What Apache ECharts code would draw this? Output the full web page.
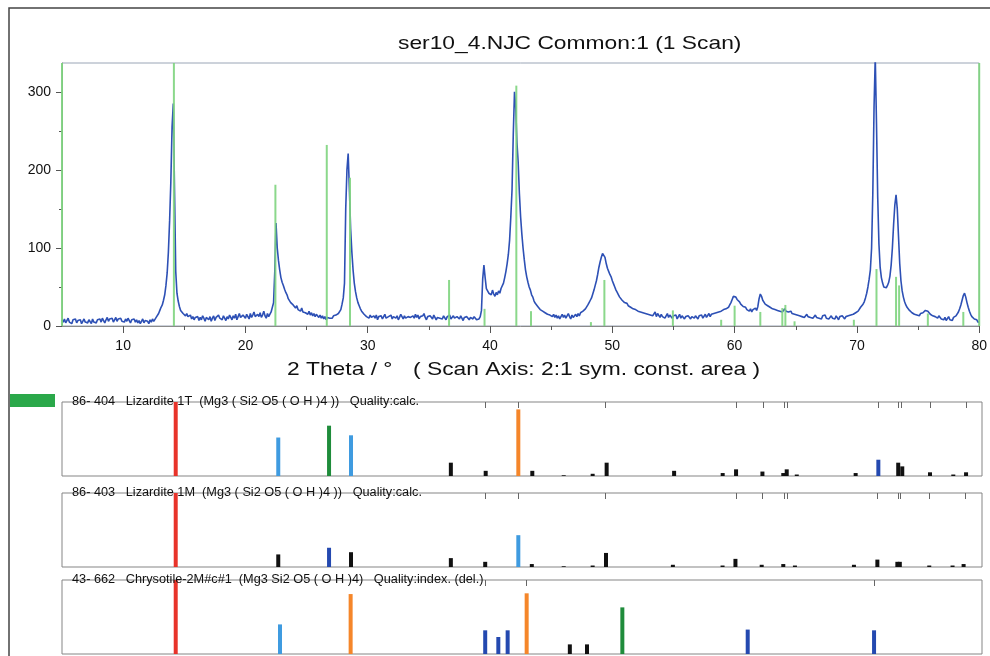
<!DOCTYPE html>
<html>
<head>
<meta charset="utf-8">
<title>ser10_4.NJC</title>
<script src="https://cdn.jsdelivr.net/npm/echarts@6/dist/echarts.min.js"></script>
<style>
  html, body { margin: 0; padding: 0; background: #fff; }
  #chart { width: 990px; height: 656px; }
</style>
</head>
<body>
<div id="chart"></div>
<script>
// Scan: 2-theta from 5 to 80 in 0.1 deg steps, counts
var scanStart = 5.0;
var scanStep = 0.1;
var scanCounts = [
  8,5,9,4,7,10,5,6,3,8,
  6,9,4,7,5,8,3,6,9,5,
  7,4,8,6,3,9,5,7,4,8,
  6,9,5,10,7,4,8,11,6,9,
  7,10,5,8,11,6,9,7,10,6,
  8,5,9,6,10,7,4,8,6,9,
  5,8,4,7,3,6,9,4,7,5,
  6,3,8,5,9,6,8,11,13,16,
  20,24,27,33,40,52,68,95,135,185,
  255,285,175,70,42,32,25,20,18,16,
  15,13,16,12,10,14,9,12,8,11,
  9,12,7,11,8,13,10,6,11,9,
  8,12,6,10,13,7,11,9,14,10,
  12,8,13,10,7,12,9,14,11,8,
  13,10,15,8,12,16,11,9,14,12,
  10,15,12,9,16,11,14,18,12,10,
  15,12,17,11,14,19,13,10,16,12,
  14,18,16,30,70,132,100,84,72,62,
  56,52,47,43,40,35,33,30,29,27,
  25,23,26,21,22,19,23,18,20,17,
  18,15,19,14,17,13,16,12,15,13,
  11,14,10,13,9,12,8,11,13,10,
  12,10,13,11,14,13,16,18,21,28,
  36,55,150,200,221,175,125,95,72,55,
  44,36,30,26,22,19,17,15,14,12,
  13,10,14,11,9,13,10,14,8,12,
  10,13,9,12,15,10,8,12,11,14,
  9,12,14,10,13,8,11,15,12,9,
  13,10,8,12,14,11,9,13,10,15,
  11,14,9,12,10,13,16,11,8,12,
  10,13,11,9,14,12,8,11,13,10,
  12,9,13,11,8,12,10,14,9,11,
  13,10,8,12,11,9,13,10,7,11,
  9,12,10,8,11,13,9,12,10,8,
  10,9,12,20,60,78,62,48,45,42,
  44,40,46,41,38,43,40,45,42,48,
  50,55,62,70,80,92,110,140,175,245,
  300,280,235,210,170,140,118,100,85,72,
  63,56,50,46,40,37,32,29,27,25,
  24,21,23,19,20,17,19,15,17,14,
  16,12,15,11,14,10,13,9,12,15,
  11,14,10,13,16,12,9,14,11,13,
  15,12,16,13,17,15,19,18,22,24,
  27,30,33,36,41,46,52,58,66,75,
  82,88,93,95,88,80,74,70,66,63,
  58,54,50,46,43,40,37,35,33,31,
  30,28,29,26,27,24,25,22,24,21,
  22,19,21,18,20,17,19,16,18,15,
  17,14,16,13,15,18,12,16,14,11,
  15,12,14,10,13,16,11,14,12,10,
  13,11,14,9,12,15,10,13,11,9,
  12,10,13,11,9,12,14,10,13,11,
  9,13,11,14,10,12,15,11,13,16,
  12,15,13,16,14,17,15,18,16,19,
  18,21,19,22,20,24,27,30,34,38,
  40,37,34,36,31,28,27,25,23,24,
  21,23,19,22,18,21,19,23,20,25,
  35,41,38,33,31,28,30,26,27,24,
  25,22,24,21,23,20,22,19,21,18,
  20,22,19,21,18,17,19,16,18,15,
  17,14,16,13,15,12,14,11,13,15,
  12,14,11,13,10,12,14,11,13,10,
  12,9,13,11,14,10,12,9,11,13,
  10,12,9,13,11,8,12,10,13,11,
  9,12,10,13,11,14,12,15,13,17,
  16,19,21,24,26,28,31,36,42,50,
  60,72,100,170,280,345,260,165,105,75,
  62,55,50,48,49,52,56,64,78,100,
  130,155,168,150,115,80,58,45,37,31,
  27,24,22,20,19,17,18,15,17,14,
  15,13,16,14,17,18,20,22,19,17,
  15,17,13,15,12,14,10,13,11,9,
  10,8,11,7,9,12,8,10,7,11,
  11,13,15,18,22,27,33,39,42,37,
  30,24,19,15,12,10,9,7,8,5,
  5
];

// green reference lines drawn in the scan window [2theta, counts]
var refLines = [
  [5.0, 337], [14.15, 337], [22.45, 181], [26.65, 232], [28.55, 190],
  [36.65, 59], [39.55, 22], [42.15, 308], [43.35, 19], [48.25, 5],
  [49.35, 59], [54.95, 20], [58.9, 8], [60.0, 26], [62.1, 18],
  [63.9, 23], [64.15, 27], [64.9, 6], [69.75, 8], [71.6, 73],
  [73.2, 63], [73.45, 52], [75.8, 16], [78.7, 18], [80.0, 337]
];

// axis ticks
var xMajorTicks = [10, 20, 30, 40, 50, 60, 70, 80];
var xMinorTicks = [15, 25, 35, 45, 55, 65, 75];
var yMajorTicks = [0, 100, 200, 300];
var yMinorTicks = [50, 150, 250];

// 86-404 Lizardite 1T sticks [2theta, rel. intensity]
var lz1tRed = [[14.27, 100]];
var lz1tLightBlue = [[22.63, 52], [28.56, 55]];
var lz1tGreen = [[26.77, 68]];
var lz1tOrange = [[42.2, 90]];
var lz1tDarkBlue = [[71.55, 22]];
var lz1tBlack = [
  [36.7, 18], [39.54, 7], [43.34, 7], [45.9, 1], [48.26, 3], [49.4, 18],
  [54.9, 7], [58.86, 4], [59.95, 9], [62.1, 6], [63.8, 4], [64.08, 9],
  [64.9, 2], [69.7, 4], [73.17, 18], [73.5, 13], [75.76, 5], [77.66, 2], [78.7, 5]
];
var lz1tMarks = [39.5, 42.2, 49.3, 60.0, 62.2, 63.9, 64.1, 71.55, 73.2, 73.4, 75.76, 78.7];

// 86-403 Lizardite 1M sticks
var lz1mRed = [[14.27, 100]];
var lz1mDarkBlue = [[26.77, 26]];
var lz1mLightBlue = [[42.2, 43]];
var lz1mBlack = [
  [22.63, 17], [28.56, 20], [36.7, 12], [39.5, 7], [43.3, 4], [45.9, 1],
  [48.26, 2], [49.35, 19], [54.8, 3], [58.85, 2], [59.9, 11], [62.04, 3],
  [63.8, 4], [64.75, 2], [69.56, 3], [71.47, 10], [73.1, 7], [73.3, 7],
  [75.7, 2], [77.6, 2], [78.5, 4]
];
var lz1mMarks = [39.5, 42.2, 49.3, 60.0, 62.1, 63.9, 64.1, 71.5, 73.15, 73.35, 75.7, 78.6];

// 43-662 Chrysotile-2M#c#1 sticks
var chRed = [[14.27, 100]];
var chLightBlue = [[22.77, 40]];
var chOrange = [[28.53, 81], [42.88, 82]];
var chDarkBlue = [[39.5, 32], [40.57, 23], [41.33, 32], [60.9, 33], [71.2, 32]];
var chBlack = [[46.4, 13], [47.8, 13]];
var chGreen = [[50.68, 63]];
var chMarks = [39.5, 42.88, 71.2];

var FONT = '"Liberation Sans", Arial, Helvetica, sans-serif';
var RED = '#e8332a', LBLUE = '#3f9be0', GREEN = '#1f8c3b',
    ORANGE = '#f5862a', DBLUE = '#2449b0', BLACK = '#111111';

var scanData = scanCounts.map(function (c, i) {
  return [+(scanStart + i * scanStep).toFixed(2), c];
});

var chartDom = document.getElementById('chart');
var myChart = echarts.init(chartDom);

var panelTops = [402, 493, 580];

var grids = [{ left: 62, top: 63, width: 920, height: 263, show: true, borderColor: '#9aa5b6', borderWidth: 1 }];
panelTops.forEach(function (t) {
  grids.push({ left: 62, top: t, width: 920, height: 74, show: true, borderColor: '#858585', borderWidth: 1 });
});

var xAxes = [
  {
    gridIndex: 0, type: 'value', min: 5, max: 80, position: 'bottom',
    axisLine: { show: true, onZero: false, lineStyle: { color: '#8a8a8a' } },
    axisTick: { show: true, customValues: xMajorTicks, length: 7, lineStyle: { color: '#555' } },
    axisLabel: { show: true, customValues: xMajorTicks, margin: 13, fontSize: 14, fontFamily: FONT, color: '#111' },
    splitLine: { show: false }
  },
  {
    gridIndex: 0, type: 'value', min: 5, max: 80, position: 'bottom',
    axisLine: { show: false, onZero: false },
    axisTick: { show: true, customValues: xMinorTicks, length: 4, lineStyle: { color: '#555' } },
    axisLabel: { show: false },
    splitLine: { show: false }
  }
];
var panelMarks = [lz1tMarks, lz1mMarks, chMarks];
panelMarks.forEach(function (m, i) {
  xAxes.push({
    gridIndex: i + 1, type: 'value', min: 5, max: 80, position: 'top',
    axisLine: { show: false, onZero: false },
    axisTick: { show: true, inside: true, customValues: m, length: 6, lineStyle: { color: '#666' } },
    axisLabel: { show: false },
    splitLine: { show: false }
  });
});

var yAxes = [
  {
    gridIndex: 0, type: 'value', min: 0, max: 337, position: 'left',
    axisLine: { show: true, onZero: false, lineStyle: { color: '#8a8a8a' } },
    axisTick: { show: true, customValues: yMajorTicks, length: 6, lineStyle: { color: '#555' } },
    axisLabel: { show: true, customValues: yMajorTicks, margin: 11, fontSize: 14, fontFamily: FONT, color: '#111' },
    splitLine: { show: false }
  },
  {
    gridIndex: 0, type: 'value', min: 0, max: 337, position: 'left',
    axisLine: { show: false, onZero: false },
    axisTick: { show: true, customValues: yMinorTicks, length: 3, lineStyle: { color: '#555' } },
    axisLabel: { show: false },
    splitLine: { show: false }
  }
];
panelTops.forEach(function (t, i) {
  yAxes.push({ gridIndex: i + 1, type: 'value', min: 0, max: 100, show: false });
});

function sticks(axisIdx, data, color) {
  return {
    type: 'bar', xAxisIndex: axisIdx, yAxisIndex: axisIdx,
    barWidth: 4, barGap: '-100%',
    itemStyle: { color: color },
    data: data
  };
}

var series = [
  {
    type: 'line', xAxisIndex: 0, yAxisIndex: 0, data: scanData,
    showSymbol: false, clip: true, z: 2,
    lineStyle: { color: '#2d50b5', width: 1.6 }
  },
  {
    type: 'bar', xAxisIndex: 0, yAxisIndex: 0, data: refLines,
    barWidth: 2, z: 3,
    itemStyle: { color: '#7ed47e', opacity: 0.9 }
  },
  sticks(2, lz1tBlack, BLACK), sticks(2, lz1tRed, RED), sticks(2, lz1tLightBlue, LBLUE),
  sticks(2, lz1tGreen, GREEN), sticks(2, lz1tOrange, ORANGE), sticks(2, lz1tDarkBlue, DBLUE),
  sticks(3, lz1mBlack, BLACK), sticks(3, lz1mRed, RED), sticks(3, lz1mDarkBlue, DBLUE),
  sticks(3, lz1mLightBlue, LBLUE),
  sticks(4, chBlack, BLACK), sticks(4, chRed, RED), sticks(4, chLightBlue, LBLUE),
  sticks(4, chOrange, ORANGE), sticks(4, chDarkBlue, DBLUE), sticks(4, chGreen, GREEN)
];

function label(x, y, text, size, sx) {
  return {
    type: 'text', x: x, y: y, scaleX: sx, z: 10,
    style: { text: text, font: size + 'px ' + FONT, fill: '#111', verticalAlign: 'middle' }
  };
}

var option = {
  animation: false,
  grid: grids,
  xAxis: xAxes,
  yAxis: yAxes,
  series: series,
  graphic: [
    { type: 'rect', shape: { x: 9, y: 8, width: 1000, height: 700 }, style: { fill: 'none', stroke: '#444', lineWidth: 1.5 } },
    { type: 'rect', shape: { x: 10, y: 394, width: 45, height: 13 }, style: { fill: '#2aa84a' } },
    label(398, 44, 'ser10_4.NJC Common:1 (1 Scan)', 19, 1.2),
    label(287, 370, '2 Theta / °', 19, 1.2),
    label(413, 370, '( Scan Axis: 2:1 sym. const. area )', 19, 1.2),
    label(72, 402, '86- 404   Lizardite 1T  (Mg3 ( Si2 O5 ( O H )4 ))   Quality:calc.', 12, 1.06),
    label(72, 493, '86- 403   Lizardite 1M  (Mg3 ( Si2 O5 ( O H )4 ))   Quality:calc.', 12, 1.06),
    label(72, 580, '43- 662   Chrysotile-2M#c#1  (Mg3 Si2 O5 ( O H )4)   Quality:index. (del.)', 12, 1.06)
  ]
};

myChart.setOption(option);
</script>
</body>
</html>
